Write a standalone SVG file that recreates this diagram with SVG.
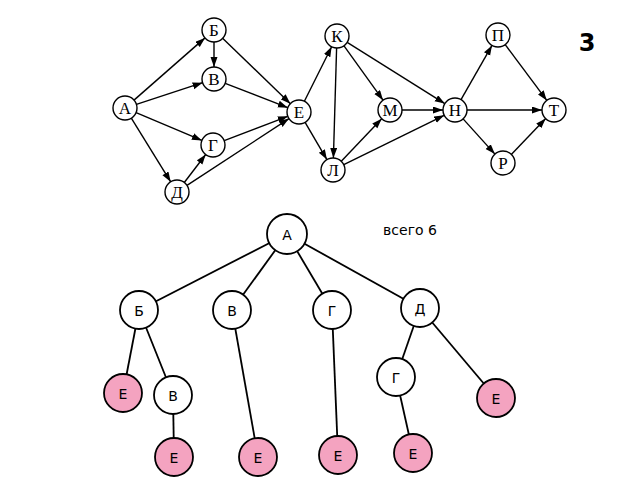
<svg xmlns="http://www.w3.org/2000/svg" width="640" height="480" viewBox="0 0 640 480">
<defs>
<marker id="ah" markerUnits="userSpaceOnUse" markerWidth="10" markerHeight="8" refX="10" refY="3.5" orient="auto">
<path d="M0,0 L10,3.5 L0,7 z" fill="#000"/>
</marker>
<style>
.g circle{fill:#fff;stroke:#000;stroke-width:1.4}
.g text{font-family:"Liberation Serif","DejaVu Serif",serif;font-size:17px;text-anchor:middle;dominant-baseline:central;fill:#000}
.ge line{stroke:#000;stroke-width:1.4;marker-end:url(#ah)}
.t circle{fill:#fff;stroke:#000;stroke-width:1.8}
.t circle.e{fill:#f4a3c0}
.t text{font-family:"DejaVu Sans","Liberation Sans",sans-serif;font-size:14px;text-anchor:middle;dominant-baseline:central;fill:#000}
.te line{stroke:#000;stroke-width:1.8}
</style>
</defs>
<rect width="640" height="480" fill="#fff"/>
<g id="graph-edges" class="ge">
<line x1="134" y1="100.1" x2="205" y2="37.9"/>
<line x1="136.4" y1="104.3" x2="202.6" y2="82.7"/>
<line x1="136.1" y1="112.6" x2="201.9" y2="140.4"/>
<line x1="131.3" y1="118.2" x2="170.7" y2="181.8"/>
<line x1="214" y1="42" x2="214" y2="67"/>
<line x1="222.6" y1="38.3" x2="290.4" y2="103.7"/>
<line x1="225.2" y1="83.3" x2="287.8" y2="107.7"/>
<line x1="224.2" y1="140.7" x2="287.8" y2="116.3"/>
<line x1="184.3" y1="182.5" x2="205.7" y2="154.5"/>
<line x1="187" y1="185.4" x2="289" y2="118.6"/>
<line x1="304.4" y1="101.3" x2="331.6" y2="46.7"/>
<line x1="305.1" y1="122.4" x2="326.9" y2="159.6"/>
<line x1="336.6" y1="48" x2="333.4" y2="158"/>
<line x1="344" y1="45.8" x2="383" y2="100.2"/>
<line x1="347.2" y1="42.4" x2="444.8" y2="103.6"/>
<line x1="341.3" y1="161.3" x2="381.7" y2="118.7"/>
<line x1="343.8" y1="164.7" x2="444.2" y2="115.3"/>
<line x1="402" y1="110" x2="443" y2="110"/>
<line x1="461" y1="99.6" x2="492" y2="45.4"/>
<line x1="467" y1="110" x2="542" y2="110"/>
<line x1="463.1" y1="118.9" x2="494.9" y2="154.1"/>
<line x1="505.2" y1="44.6" x2="546.8" y2="100.4"/>
<line x1="511.3" y1="154.4" x2="545.7" y2="118.6"/>
</g>
<g class="g">
<g id="gA"><circle cx="125" cy="108" r="12"/><text x="125" y="108">А</text></g>
<g id="gB"><circle cx="214" cy="30" r="12"/><text x="214" y="30">Б</text></g>
<g id="gV"><circle cx="214" cy="79" r="12"/><text x="214" y="79">В</text></g>
<g id="gG"><circle cx="213" cy="145" r="12"/><text x="213" y="145">Г</text></g>
<g id="gD"><circle cx="177" cy="192" r="12"/><text x="177" y="192">Д</text></g>
<g id="gE"><circle cx="299" cy="112" r="12"/><text x="299" y="112">Е</text></g>
<g id="gK"><circle cx="337" cy="36" r="12"/><text x="337" y="36">К</text></g>
<g id="gL"><circle cx="333" cy="170" r="12"/><text x="333" y="170">Л</text></g>
<g id="gM"><circle cx="390" cy="110" r="12"/><text x="390" y="110">М</text></g>
<g id="gN"><circle cx="455" cy="110" r="12"/><text x="455" y="110">Н</text></g>
<g id="gP"><circle cx="498" cy="35" r="12"/><text x="498" y="35">П</text></g>
<g id="gT"><circle cx="554" cy="110" r="12"/><text x="554" y="110">Т</text></g>
<g id="gR"><circle cx="503" cy="163" r="12"/><text x="503" y="163">Р</text></g>
</g>
<text x="587" y="51" font-family="DejaVu Sans, sans-serif" font-size="24" font-weight="bold" text-anchor="middle">3</text>
<text x="410" y="230" font-family="DejaVu Sans, sans-serif" font-size="14" text-anchor="middle" dominant-baseline="central">всего 6</text>
<g id="tree-edges" class="te">
<line x1="287" y1="234" x2="139" y2="310"/>
<line x1="287" y1="234" x2="232" y2="310"/>
<line x1="287" y1="234" x2="332" y2="310"/>
<line x1="287" y1="234" x2="420" y2="308"/>
<line x1="139" y1="310" x2="123" y2="393"/>
<line x1="139" y1="310" x2="173" y2="395"/>
<line x1="173" y1="395" x2="174" y2="457"/>
<line x1="232" y1="310" x2="258" y2="457"/>
<line x1="332" y1="310" x2="338" y2="455"/>
<line x1="420" y1="308" x2="396" y2="377"/>
<line x1="420" y1="308" x2="496" y2="398"/>
<line x1="396" y1="377" x2="413" y2="453"/>
</g>
<g class="t">
<g id="tA"><circle cx="287" cy="234" r="20"/><text x="287" y="235">А</text></g>
<g id="tB"><circle cx="139" cy="310" r="19"/><text x="139" y="311">Б</text></g>
<g id="tV"><circle cx="232" cy="310" r="19"/><text x="232" y="311">В</text></g>
<g id="tG"><circle cx="332" cy="310" r="19"/><text x="332" y="311">Г</text></g>
<g id="tD"><circle cx="420" cy="308" r="19"/><text x="420" y="309">Д</text></g>
<g id="tBE"><circle class="e" cx="123" cy="393" r="19"/><text x="123" y="394">Е</text></g>
<g id="tBV"><circle cx="173" cy="395" r="19"/><text x="173" y="396">В</text></g>
<g id="tBVE"><circle class="e" cx="174" cy="457" r="19"/><text x="174" y="458">Е</text></g>
<g id="tVE"><circle class="e" cx="258" cy="457" r="19"/><text x="258" y="458">Е</text></g>
<g id="tGE"><circle class="e" cx="338" cy="455" r="19"/><text x="338" y="456">Е</text></g>
<g id="tDG"><circle cx="396" cy="377" r="19"/><text x="396" y="378">Г</text></g>
<g id="tDGE"><circle class="e" cx="413" cy="453" r="19"/><text x="413" y="454">Е</text></g>
<g id="tDE"><circle class="e" cx="496" cy="398" r="19"/><text x="496" y="399">Е</text></g>
</g>
</svg>
